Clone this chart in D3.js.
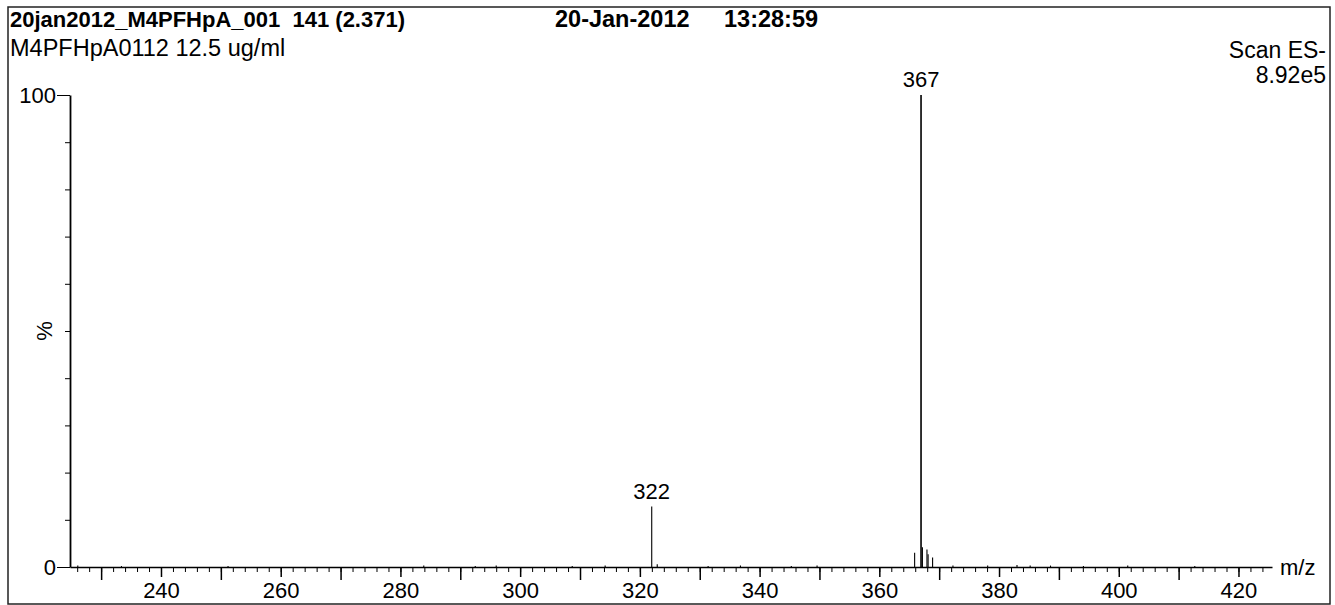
<!DOCTYPE html>
<html>
<head>
<meta charset="utf-8">
<script src="https://cdn.jsdelivr.net/npm/d3@7"></script>
<style>
  body { margin: 0; background: #fff; }
  text { font-family: "Liberation Sans", Arial, sans-serif; fill: #000; }
</style>
</head>
<body>
<div id="chart"></div>
<script>
// spectrum data (m/z, relative intensity %)
var mz        = [226.1, 233.4, 251.2, 283.9, 292.5, 296.0, 308.7, 314.2, 321.98, 322.9, 331.4, 336.8, 345.3, 349.6, 365.9, 366.97, 367.2, 367.96, 368.15, 368.9, 372.3, 378.1, 383.0, 385.2, 388.6, 394.1, 401.5, 412.7]
var intensity = [0.3,   0.2,   0.2,   0.3,   0.2,   0.3,   0.2,   0.3,   12.8,   0.6,   0.2,   0.3,   0.2,   0.3,   3.0,   100,    4.2,   3.7,    2.7,    2.0,   0.3,   0.3,   0.4,   0.3,   0.3,   0.2,   0.3,   0.2]

var labelMz   = [321.98, 366.97]
var labelText = ["322", "367"]

var xMajor = [240, 260, 280, 300, 320, 340, 360, 380, 400, 420]
var yLabels = [0, 100]

var titleLeft = "20jan2012_M4PFHpA_001  141 (2.371)"
var titleDate = "20-Jan-2012"
var titleTime = "13:28:59"
var subTitle  = "M4PFHpA0112 12.5 ug/ml"
var scanType  = "Scan ES-"
var scanMax   = "8.92e5"

var width = 1335,
    height = 605,
    fontSize = "22px"

var svg = d3.select("#chart")
  .append("svg")
    .attr("width", width)
    .attr("height", height)

// page frame
svg.append("rect")
  .attr("x", 8).attr("y", 7)
  .attr("width", 1322).attr("height", 597)
  .attr("fill", "none")
  .attr("stroke", "#222")
  .attr("stroke-width", 1.5)

// scales
var x = d3.scaleLinear().domain([224.8, 425.6]).range([70, 1272])
var y = d3.scaleLinear().domain([0, 100]).range([567, 95])

// header text
svg.append("text").attr("x", 10).attr("y", 27)
  .style("font-size", fontSize).style("font-weight", "bold").attr("xml:space", "preserve")
  .text(titleLeft)
svg.append("text").attr("x", 555).attr("y", 27)
  .style("font-size", "23.5px").style("font-weight", "bold")
  .text(titleDate)
svg.append("text").attr("x", 724).attr("y", 27)
  .style("font-size", "23.5px").style("font-weight", "bold")
  .text(titleTime)
svg.append("text").attr("x", 10).attr("y", 56)
  .style("font-size", "23.5px")
  .text(subTitle)
svg.append("text").attr("x", 1326).attr("y", 58)
  .style("font-size", "23px").attr("text-anchor", "end")
  .text(scanType)
svg.append("text").attr("x", 1326).attr("y", 83)
  .style("font-size", "23px").attr("text-anchor", "end")
  .text(scanMax)

// x axis: minor ticks every 2, longer ticks at odd tens, labelled every 20
var minorVals = d3.range(226, 426, 2)
var tenVals = d3.range(230, 426, 20)

svg.append("g")
  .attr("transform", "translate(0," + y(0) + ")")
  .call(d3.axisBottom(x).tickValues(minorVals).tickSize(5).tickSizeOuter(0).tickFormat(""))
  .call(function(g) { g.selectAll("line").attr("stroke", "#000") })
  .call(function(g) { g.select(".domain").attr("stroke", "#000").attr("stroke-width", 1.5) })

svg.append("g")
  .attr("transform", "translate(0," + y(0) + ")")
  .call(d3.axisBottom(x).tickValues(tenVals).tickSize(13).tickSizeOuter(0).tickFormat(""))
  .call(function(g) { g.select(".domain").remove() })
  .call(function(g) { g.selectAll("line").attr("stroke", "#000").attr("stroke-width", 1.5) })

svg.append("g")
  .attr("transform", "translate(0," + y(0) + ")")
  .call(d3.axisBottom(x).tickValues(xMajor).tickSize(10).tickPadding(5).tickFormat(d3.format("d")))
  .call(function(g) { g.select(".domain").remove() })
  .call(function(g) { g.selectAll("line").attr("stroke", "#000").attr("stroke-width", 1.5) })
  .call(function(g) { g.selectAll("text").style("font-size", fontSize).attr("font-family", null) })

svg.append("text").attr("x", 1280).attr("y", 575)
  .style("font-size", fontSize)
  .text("m/z")

// y axis: ticks every 10 %, labels at 0 and 100
svg.append("g")
  .attr("transform", "translate(" + x(224.8) + ",0)")
  .call(d3.axisLeft(y).tickValues(d3.range(10, 100, 10)).tickSize(5).tickSizeOuter(0).tickFormat(""))
  .call(function(g) { g.select(".domain").attr("stroke", "#000").attr("stroke-width", 1.8) })
  .call(function(g) { g.selectAll("line").attr("stroke", "#000") })

svg.append("g")
  .attr("transform", "translate(" + x(224.8) + ",0)")
  .call(d3.axisLeft(y).tickValues(yLabels).tickSize(13).tickPadding(1).tickFormat(d3.format("d")))
  .call(function(g) { g.select(".domain").remove() })
  .call(function(g) { g.selectAll("line").attr("stroke", "#000") })
  .call(function(g) { g.selectAll("text").style("font-size", fontSize).attr("font-family", null) })

svg.append("text")
  .attr("transform", "translate(52,331) rotate(-90)")
  .attr("text-anchor", "middle")
  .style("font-size", fontSize)
  .text("%")

// spectrum sticks
svg.selectAll(".stick")
  .data(d3.zip(mz, intensity))
  .enter()
  .append("line")
    .attr("class", "stick")
    .attr("x1", function(d) { return x(d[0]) })
    .attr("x2", function(d) { return x(d[0]) })
    .attr("y1", y(0))
    .attr("y2", function(d) { return y(d[1]) })
    .attr("stroke", "#000")
    .attr("stroke-width", function(d) { return d[1] > 50 ? 1.6 : 1.1 })

// peak labels
var intensityAt = function(m) { return intensity[mz.indexOf(m)] }
svg.selectAll(".peak-label")
  .data(d3.zip(labelMz, labelText))
  .enter()
  .append("text")
    .attr("class", "peak-label")
    .attr("x", function(d) { return x(d[0]) })
    .attr("y", function(d) { return y(intensityAt(d[0])) - 8 })
    .attr("text-anchor", "middle")
    .style("font-size", fontSize)
    .text(function(d) { return d[1] })
</script>
</body>
</html>
